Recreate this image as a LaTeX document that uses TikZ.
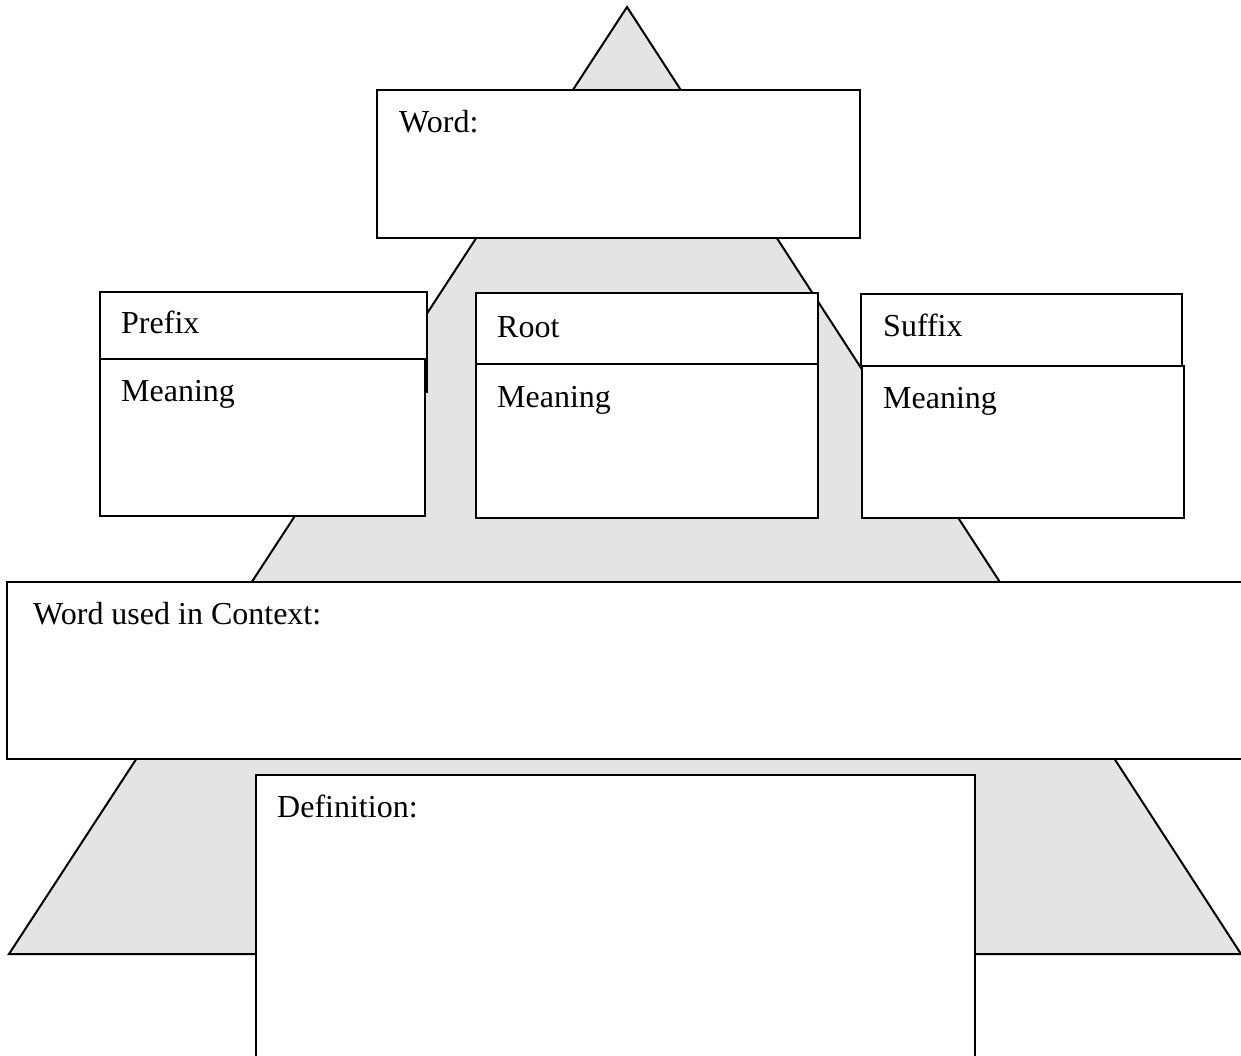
\documentclass[tikz,border=0pt]{standalone}
\usepackage{fontspec}
\setmainfont{Liberation Serif}
\definecolor{trigray}{HTML}{E4E4E4}
\begin{document}
\begin{tikzpicture}[x=1pt,y=-1pt,
  box/.style={draw=black, line width=2pt, fill=white, rectangle, inner sep=0pt, outer sep=0pt, anchor=north west},
  lbl/.style={anchor=base west, inner sep=0pt, font=\fontsize{32}{38}\selectfont},
  tri/.style={draw=black, line width=2pt, fill=trigray, line join=miter}]
\useasboundingbox (0,0) rectangle (1241,1055);
\clip (0,0) rectangle (1241,1055);
% pyramid
\coordinate (apex) at (627,7);
\coordinate (bl) at (9,954);
\coordinate (br) at (1241,954);
\draw[tri] (apex) -- (bl) -- (br) -- cycle;
% Word box
\node[box, minimum width=483pt, minimum height=148pt] (word) at (377,90) {};
\node[lbl] (wordt) at (399,132) {Word:};
% Prefix
\node[box, minimum width=327pt, minimum height=100pt] (pre) at (100,292) {};
\node[box, minimum width=325pt, minimum height=157pt] (prem) at (100,359) {};
\node[lbl] (pret) at (121,333) {Prefix};
\node[lbl] (premt) at (121,401) {Meaning};
% Root
\node[box, minimum width=342pt, minimum height=71pt] (root) at (476,293) {};
\node[box, minimum width=342pt, minimum height=154pt] (rootm) at (476,364) {};
\node[lbl] (roott) at (497,337) {Root};
\node[lbl] (rootmt) at (497,407) {Meaning};
% Suffix
\node[box, minimum width=321pt, minimum height=73pt] (suf) at (861,294) {};
\node[box, minimum width=322pt, minimum height=152pt] (sufm) at (862,366) {};
\node[lbl] (suft) at (883,336) {Suffix};
\node[lbl] (sufmt) at (883,408) {Meaning};
% Context
\node[box, minimum width=1250pt, minimum height=177pt] (ctx) at (7,582) {};
\node[lbl] (ctxt) at (33,624) {Word used in Context:};
% Definition
\node[box, minimum width=719pt, minimum height=300pt] (def) at (256,775) {};
\node[lbl] (deft) at (277,817) {Definition:};
\end{tikzpicture}
\end{document}
